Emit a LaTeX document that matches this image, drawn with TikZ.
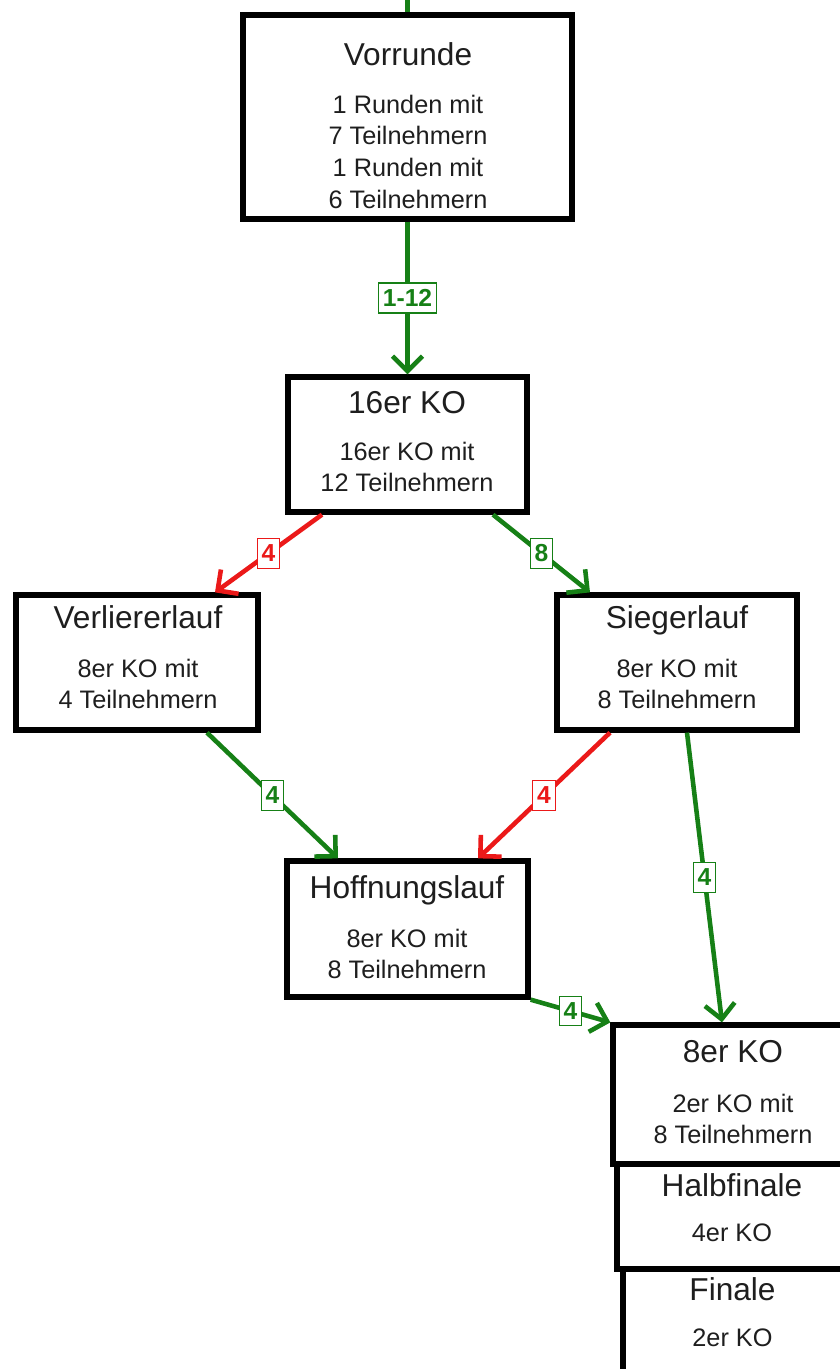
\documentclass[tikz,border=0pt]{standalone}
\usepackage{fontspec}
\setmainfont{Liberation Sans}
\usetikzlibrary{arrows.meta, positioning}
\definecolor{kogreen}{RGB}{22,128,22}
\definecolor{kored}{RGB}{235,25,25}
\definecolor{textgray}{RGB}{30,30,30}

\begin{document}
\begin{tikzpicture}[
        stage/.style={rectangle, draw, line width=3pt},
        stagetitle/.style={anchor=base, inner sep=0pt, text=textgray,
                     font=\fontsize{18}{22}\selectfont},
        stagebody/.style={anchor=north, inner sep=0pt, align=center, text=textgray,
                     font=\fontsize{14.4}{18}\selectfont},
        countbox/.style={rectangle, draw, fill=white, line width=0.7pt,
                     inner xsep=2.5pt, inner ysep=3.6pt,
                     font=\fontsize{14}{16}\selectfont\bfseries},
        win/.style={-{Straight Barb[length=3mm, width=6mm]}, line width=2.6pt, kogreen},
        lose/.style={win, kored}
    ]
        \useasboundingbox (0,0) rectangle (16.8,-27.38);
        \clip (0,0) rectangle (16.8,-27.38);

        % Vorrunde
        \node[stage, minimum width=6.58cm, minimum height=4.08cm] (vorrunde) at (8.15,-2.34) {};
        \node[stagetitle] (vorrunde-title) at (8.16,-1.30) {Vorrunde};
        \node[stagebody] (vorrunde-body) at (8.16,-1.89) {1 Runden mit\\7 Teilnehmern\\1 Runden mit\\6 Teilnehmern};

        % 16er KO
        \node[stage, minimum width=4.78cm, minimum height=2.70cm] (ko16) at (8.15,-8.89) {};
        \node[stagetitle] (ko16-title) at (8.14,-8.26) {16er KO};
        \node[stagebody] (ko16-body) at (8.14,-8.83) {16er KO mit\\12 Teilnehmern};

        % Verliererlauf and Siegerlauf
        \node[stage, minimum width=4.84cm, minimum height=2.70cm] (verlierer) at (2.74,-13.25) {};
        \node[stagetitle] (verlierer-title) at (2.76,-12.56) {Verliererlauf};
        \node[stagebody] (verlierer-body) at (2.76,-13.17) {8er KO mit\\4 Teilnehmern};

        \node[stage, minimum width=4.80cm, minimum height=2.70cm] (sieger) at (13.54,-13.25) {};
        \node[stagetitle] (sieger-title) at (13.54,-12.56) {Siegerlauf};
        \node[stagebody] (sieger-body) at (13.54,-13.17) {8er KO mit\\8 Teilnehmern};

        % Hoffnungslauf
        \node[stage, minimum width=4.82cm, minimum height=2.72cm] (hoffnung) at (8.15,-18.58) {};
        \node[stagetitle] (hoffnung-title) at (8.14,-17.96) {Hoffnungslauf};
        \node[stagebody] (hoffnung-body) at (8.14,-18.57) {8er KO mit\\8 Teilnehmern};

        % Final rounds
        \node[stage, minimum width=4.80cm, minimum height=2.78cm] (ko8) at (14.66,-21.89) {};
        \node[stagetitle] (ko8-title) at (14.66,-21.24) {8er KO};
        \node[stagebody] (ko8-body) at (14.66,-21.87) {2er KO mit\\8 Teilnehmern};

        \node[stage, minimum width=4.80cm, minimum height=2.10cm] (halbfinale) at (14.74,-24.33) {};
        \node[stagetitle] (halbfinale-title) at (14.64,-23.92) {Halbfinale};
        \node[stagebody] (halbfinale-body) at (14.64,-24.47) {4er KO};

        \node[stage, minimum width=4.80cm, minimum height=2.12cm] (finale) at (14.86,-26.44) {};
        \node[stagetitle] (finale-title) at (14.65,-26.00) {Finale};
        \node[stagebody] (finale-body) at (14.65,-26.57) {2er KO};

        % Connections
        \coordinate (entry) at (8.15,0.2);
        \draw[win, -] (entry) -- (vorrunde.north);
        \draw[win] (vorrunde.south) -- node[countbox] (c1) {1-12} (ko16.north);
        \draw[lose] ([xshift=-1.71cm]ko16.south) -- node[countbox] (c2) {4} ([xshift=1.56cm]verlierer.north);
        \draw[win] ([xshift=1.71cm]ko16.south) -- node[countbox] (c3) {8} ([xshift=-1.74cm]sieger.north);
        \draw[win] ([xshift=1.40cm]verlierer.south) -- node[countbox] (c4) {4} ([xshift=-1.39cm]hoffnung.north);
        \draw[lose] ([xshift=-1.34cm]sieger.south) -- node[countbox] (c5) {4} ([xshift=1.41cm]hoffnung.north);
        \draw[win] ([xshift=0.20cm]sieger.south) -- node[countbox] (c6) {4} ([xshift=-0.22cm]ko8.north);
        \draw[win] (hoffnung.south east) -- node[countbox] (c7) {4} (ko8.north west);
    \end{tikzpicture}
\end{document}
